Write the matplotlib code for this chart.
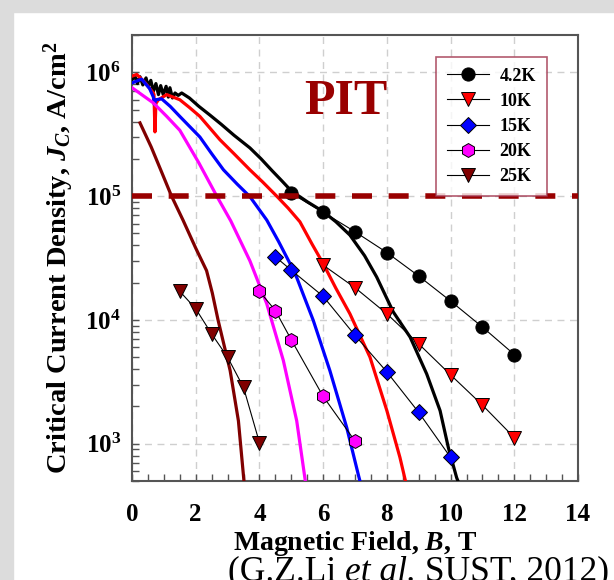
import numpy as np
import matplotlib
matplotlib.use("Agg")
import matplotlib.pyplot as plt
from matplotlib.patches import Rectangle

plt.rcParams['font.family'] = ['Liberation Serif', 'DejaVu Serif']
plt.rcParams['font.weight'] = 'bold'
plt.rcParams['mathtext.fontset'] = 'custom'
plt.rcParams['mathtext.rm'] = 'Liberation Serif:bold'
plt.rcParams['mathtext.it'] = 'Liberation Serif:italic:bold'
plt.rcParams['mathtext.bf'] = 'Liberation Serif:bold'

# measured curves (B in T, Jc in A/cm^2)
b_42_line = [0, 0.09, 0.17, 0.25, 0.34, 0.44, 0.51, 0.59, 0.67, 0.75, 0.83, 0.9, 0.98,
             1.07, 1.14, 1.19, 1.27, 1.35, 1.45, 1.56, 1.8, 2.1, 2.45, 2.8, 3.2, 3.7, 4.05,
             4.4, 4.7, 5.0, 5.5, 6.0, 6.4, 6.84, 7.3, 7.68, 8.2, 8.73, 9.25, 9.67, 9.93,
             10.19, 10.3]
jc_42_line = [8.7e5, 9.3e5, 8.1e5, 9.2e5, 7.9e5, 9.0e5, 7.7e5, 8.6e5, 7.0e5, 8.1e5, 6.6e5,
              7.8e5, 6.6e5, 7.7e5, 6.3e5, 7.5e5, 6.2e5, 6.8e5, 6.5e5, 6.8e5, 6.2e5, 5.3e5,
              4.5e5, 3.8e5, 3.1e5, 2.45e5, 2.0e5, 1.6e5, 1.33e5, 1.1e5, 9.0e4, 7.5e4, 6.2e4,
              4.84e4, 3.3e4, 2.22e4, 1.16e4, 7260, 3660, 1850, 930, 532, 450]

b_10_line = [0, 0.15, 0.4, 0.67, 0.69, 0.72, 0.75, 0.83, 1.09, 1.5, 1.8, 2.13, 2.76, 3.2,
             3.7, 4.1, 4.54, 4.9, 5.27, 5.65, 6.0, 6.4, 6.84, 7.47, 8.0, 8.41, 8.6]
jc_10_line = [9.3e5, 9.6e5, 8.3e5, 6.8e5, 6.6e5, 3.3e5, 5.6e5, 6.0e5, 6.6e5, 6.0e5, 5.2e5,
              4.4e5, 2.85e5, 2.2e5, 1.63e5, 1.3e5, 1.0e5, 8.0e4, 6.2e4, 4.1e4, 2.85e4,
              1.8e4, 1.12e4, 5000, 1850, 775, 480]

b_15_line = [0, 0.3, 0.55, 0.67, 0.70, 0.75, 0.93, 1.2, 1.5, 2.13, 2.5, 2.87, 3.3, 3.7,
             4.23, 4.6, 4.96, 5.17, 5.69, 6.21, 6.74, 7.1, 7.2]
jc_15_line = [8.2e5, 8.8e5, 7.4e5, 6.3e5, 5.5e5, 6.0e5, 6.1e5, 5.3e5, 4.4e5, 3.0e5, 2.2e5,
              1.63e5, 1.25e5, 9.9e4, 6.4e4, 4.3e4, 2.85e4, 2.2e4, 9900, 3900, 1350, 567, 450]

b_20_line = [0, 0.67, 1.09, 1.5, 2.1, 2.66, 3.1, 3.7, 4.23, 4.75, 5.17, 5.45]
jc_20_line = [7.5e5, 5.65e5, 4.4e5, 3.4e5, 1.85e5, 1.0e5, 6.3e4, 3.0e4, 1.35e4, 4700, 1530, 480]

b_25_line = [0.25, 0.6, 0.9, 1.24, 1.6, 2.0, 2.34, 2.52, 2.7, 3.08, 3.34, 3.52]
jc_25_line = [3.9e5, 2.5e5, 1.63e5, 1.0e5, 6.4e4, 3.8e4, 2.5e4, 1.65e4, 1.0e4, 3900, 1530, 480]

# measured points
b_42_pts = [5, 6, 7, 8, 9, 10, 11, 12]
jc_42_pts = [1.05e5, 7.4e4, 5.15e4, 3.5e4, 2.26e4, 1.42e4, 8750, 5250]
b_10_pts = [6, 7, 8, 9, 10, 11, 12]
jc_10_pts = [2.77e4, 1.82e4, 1.12e4, 6400, 3600, 2050, 1120]
b_15_pts = [4.5, 5, 6, 7, 8, 9, 10]
jc_15_pts = [3.23e4, 2.52e4, 1.55e4, 7500, 3800, 1790, 775]
b_20_pts = [4, 4.5, 5, 6, 7]
jc_20_pts = [1.7e4, 1.19e4, 6900, 2410, 1050]
b_25_pts = [1.5, 2, 2.5, 3, 3.5, 4]
jc_25_pts = [1.7e4, 1.23e4, 7700, 5000, 2850, 1020]

labels = ['4.2K', '10K', '15K', '20K', '25K']
colors = ['black', '#ff0000', '#0000ff', '#ff00ff', '#800000']
markers = ['o', 'v', 'D', 'h', 'v']
msizes = [9.5, 10, 8.5, 10, 10]
jc_target = 1e5
x_ticks = [0, 2, 4, 6, 8, 10, 12, 14]
y_ticks = [1e3, 1e4, 1e5, 1e6]
y_ticklabels = [r'$10^3$', r'$10^4$', r'$10^5$', r'$10^6$']

fig = plt.figure(figsize=(6.14, 5.8), dpi=100)
fig.patches.append(Rectangle((0, 0), 13 / 614, 1, transform=fig.transFigure,
                             color='#dcdcdc', zorder=-5))
fig.patches.append(Rectangle((0, 1 - 12 / 580), 1, 12 / 580, transform=fig.transFigure,
                             color='#dcdcdc', zorder=-5))
ax = fig.add_axes([0.2150, 0.1707, 0.7264, 0.769])

lines = [(b_42_line, jc_42_line), (b_10_line, jc_10_line), (b_15_line, jc_15_line),
         (b_20_line, jc_20_line), (b_25_line, jc_25_line)]
pts = [(b_42_pts, jc_42_pts), (b_10_pts, jc_10_pts), (b_15_pts, jc_15_pts),
       (b_20_pts, jc_20_pts), (b_25_pts, jc_25_pts)]

for (bx, jy), c in zip(lines, colors):
    ax.plot(bx, jy, color=c, lw=2.3, zorder=3)

handles = []
for (bx, jy), c, m, ms, lab in zip(pts, colors, markers, msizes, labels):
    h, = ax.plot(bx, jy, color='black', lw=0.8, marker=m, ms=ms, mfc=c, mec='black',
                 mew=0.7, label=lab, zorder=4)
    handles.append(h)

ax.axhline(jc_target, color='#990000', lw=4, dashes=(3.6, 3.0), dash_capstyle='butt', zorder=5)

ax.set_yscale('log')
ax.set_xlim(0, 14)
ax.set_ylim(500, 2e6)
ax.set_xticks(x_ticks)
ax.set_xticks(np.arange(0, 14.01, 0.5), minor=True)
ax.set_yticks(y_ticks)
ax.set_yticklabels(y_ticklabels)
ax.tick_params(which='both', direction='in', length=5, width=1, color='#555555')
ax.tick_params(axis='x', which='major', pad=16, labelsize=18)
ax.tick_params(axis='y', which='major', pad=8, labelsize=18)
for lab in ax.get_xticklabels():
    lab.set_fontweight('bold')
ax.grid(True, which='major', color='#cfcfcf', lw=1, dashes=(5, 4))
ax.set_axisbelow(True)
for sp in ax.spines.values():
    sp.set_color('#555555')
    sp.set_linewidth(1.5)

ax.set_xlabel(r'Magnetic Field, $B$, T', fontsize=20, fontweight='bold')
ax.set_ylabel(r'Critical Current Density, $J_C$, A/cm$^2$', fontsize=20.5, fontweight='bold')
ax.xaxis.set_label_coords(0.5, -0.108)
ax.yaxis.set_label_coords(-0.125, 0.5)

ax.text(0.48, 0.85, 'PIT', transform=ax.transAxes, ha='center', va='center',
        fontsize=36, fontweight='bold', color='#990000')

leg = ax.legend(handles=handles, loc='upper left', bbox_to_anchor=(0.682, 0.951),
                fontsize=13, frameon=True, fancybox=False, handlelength=2.3,
                handletextpad=0.6, labelspacing=0.45, borderpad=0.6, borderaxespad=0)
leg.get_frame().set_edgecolor('#a0304a')
leg.get_frame().set_linewidth(1.2)
for t in leg.get_texts():
    t.set_fontweight('bold')

# citation line, partly cut by the bottom edge as in the original
t1 = fig.text(0.371, -0.015, '(G.Z.Li ', fontsize=25.5, fontweight='normal',
              va='bottom', ha='left')
t2 = ax.annotate('et al.', xy=(1, 0), xycoords=t1, va='bottom', ha='left', fontsize=25.5,
                 fontweight='normal', style='italic', annotation_clip=False)
t3 = ax.annotate(' SUST, 2012)', xy=(1, 0), xycoords=t2, va='bottom', ha='left',
                 fontsize=25.5, fontweight='normal', annotation_clip=False)

fig.savefig('out.png', dpi=100)
